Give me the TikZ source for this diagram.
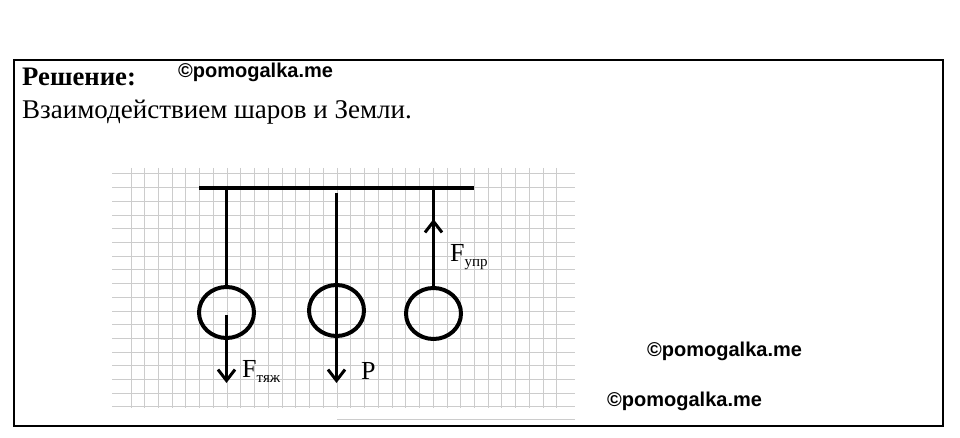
\documentclass[tikz,border=0pt]{standalone}
\usepackage{fontspec}
\setmainfont{Liberation Serif}
\newfontfamily\wmfont{Liberation Sans}
\usetikzlibrary{arrows.meta,shapes.geometric}
\newcommand{\sublab}[2]{#1\raisebox{-0.45ex}{\fontsize{15}{15}\selectfont #2}}
\tikzset{
  grid line/.style={draw=black!20, line width=1pt},
  frame/.style={draw=black, line width=2pt},
  ball/.style={ellipse, draw=black, line width=4pt, minimum width=55pt, minimum height=51pt, inner sep=0pt},
  string/.style={draw=black, line width=3.8pt},
  force/.style={draw=black, line width=3pt, -{Straight Barb[length=11pt,width=17pt,line width=3pt]}},
  wm/.style={font=\wmfont\bfseries\fontsize{20}{20}\selectfont, inner sep=0pt, anchor=base west},
  lab/.style={font=\fontsize{26}{26}\selectfont, inner sep=0pt, anchor=base west},
}
\begin{document}
\begin{tikzpicture}[x=1pt,y=-1pt]
\useasboundingbox (0,0) rectangle (960,438);
\fill[white] (0,0) rectangle (960,438);
% grid
\foreach \i in {0,...,31}{
  \draw[grid line] ({131+13.74*\i},168) -- ({131+13.74*\i},408);
}
\foreach \j in {0,...,17}{
  \draw[grid line] (112,{174+13.7*\j}) -- (575,{174+13.7*\j});
}
\draw[grid line] (337,419) -- (575,419);
% frame
\node[frame, minimum width=929pt, minimum height=365pt, inner sep=0pt, anchor=north west] (box) at (13,59.5) {};
% texts
\node[font=\bfseries\fontsize{26.7}{26.7}\selectfont, inner sep=0pt, anchor=base west] (head) at (22,86) {Решение:};
\node[font=\fontsize{27}{27}\selectfont, inner sep=0pt, anchor=base west] (body) at (22,119) {Взаимодействием шаров и Земли.};
\node[wm] (wm1) at (178,78) {©pomogalka.me};
\node[wm] (wm2) at (647,356) {©pomogalka.me};
\node[wm] (wm3) at (607,406) {©pomogalka.me};
% bar
\coordinate (barL) at (199,188);
\coordinate (barR) at (474,188);
\draw[string, line width=4.5pt] (barL) -- (barR);
% balls
\node[ball] (b1) at (226.5,312.5) {};
\node[ball] (b2) at (336.5,310.5) {};
\node[ball] (b3) at (433.5,313.5) {};
% strings
\coordinate (s1) at (226.5,188);
\coordinate (s2) at (336.5,193);
\coordinate (s3) at (433.5,188);
\draw[string] (s1) -- (b1.north);
\draw[string] (s3) -- (b3.north);
% forces
\coordinate (f1s) at (226.5,315);
\coordinate (f1e) at (226.5,383);
\coordinate (f2e) at (336.5,383);
\coordinate (f3e) at (433.5,219);
\draw[force] (f1s) -- (f1e);
\draw[force] (s2) -- (f2e);
\draw[force] (b3.north) -- (f3e);
% labels
\node[lab] (l1) at (242,377) {\sublab{F}{тяж}};
\node[lab] (l2) at (361,379) {P};
\node[lab] (l3) at (450,261) {\sublab{F}{упр}};
\end{tikzpicture}
\end{document}
